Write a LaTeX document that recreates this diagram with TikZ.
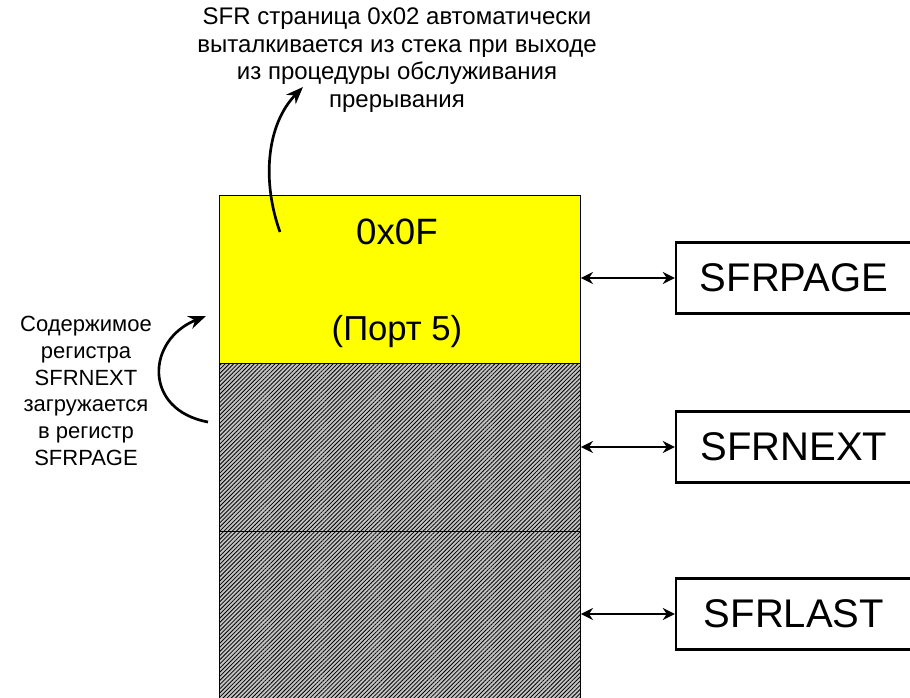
\documentclass[tikz,border=0pt]{standalone}
\usepackage{fontspec}
\setmainfont{Liberation Sans}
\usetikzlibrary{arrows.meta,positioning,patterns.meta}

\definecolor{pageyellow}{RGB}{255,255,0}
\definecolor{pagegray}{RGB}{195,195,195}

\tikzset{
  cell/.style={draw, line width=0.7pt, minimum width=270.75pt, minimum height=126pt, inner sep=0pt, anchor=north west},
  hatched/.style={cell, fill=pagegray, postaction={pattern={Lines[angle=45,distance=2.2pt,line width=0.6pt]}, pattern color=black}},
  reg/.style={draw, line width=1.8pt, minimum width=177pt, minimum height=53.25pt, inner sep=0pt, font=\fontsize{30}{36}\selectfont},
  note/.style={align=center, inner sep=0pt},
  link/.style={<->, >={Stealth[length=9pt,width=9pt]}, line width=1.8pt},
  curvearrow/.style={->, >={Stealth[length=13pt,width=10pt]}, line width=2pt}
}

\begin{document}
\begin{tikzpicture}[x=0.75pt, y=-0.75pt]
\useasboundingbox (0,0) rectangle (910,697);
\clip (0,0) rectangle (910,697);

% SFR page stack
\node[cell, fill=pageyellow] (top) at (219,195) {};
\node[hatched] (mid) at (219,363) {};
\node[hatched] (low) at (219,531) {};
\node[font=\fontsize{27.5}{32}\selectfont] (val) at (397,232) {0x0F};
\node[font=\fontsize{26}{30}\selectfont] (port) at (397,332) {(Порт 5)};

% registers
\node[reg] (page) at (794,278) {SFRPAGE};
\node[reg] (next) at (794,447) {SFRNEXT};
\node[reg] (last) at (794,614) {SFRLAST};

\draw[link] (top.east |- page.west) -- (page.west);
\draw[link] (mid.east |- next.west) -- (next.west);
\draw[link] (low.east |- last.west) -- (last.west);

% notes
\node[note, font=\fontsize{18}{20.7}\selectfont] (pop) at (397,60) {SFR страница 0x02 автоматически\\выталкивается из стека при выходе\\из процедуры обслуживания\\прерывания};
\node[note, font=\fontsize{16.5}{20}\selectfont] (load) at (86,391) {Содержимое\\регистра\\SFRNEXT\\загружается\\в регистр\\SFRPAGE};

\coordinate (popS) at (280,232);
\coordinate (popE) at (303,87);
\draw[curvearrow] (popS) .. controls (262,182) and (266,125) .. (popE);

\coordinate (loadS) at (208,422);
\coordinate (loadE) at (206,316);
\draw[curvearrow] (loadS) .. controls (143,410) and (146,340) .. (loadE);
\end{tikzpicture}
\end{document}
